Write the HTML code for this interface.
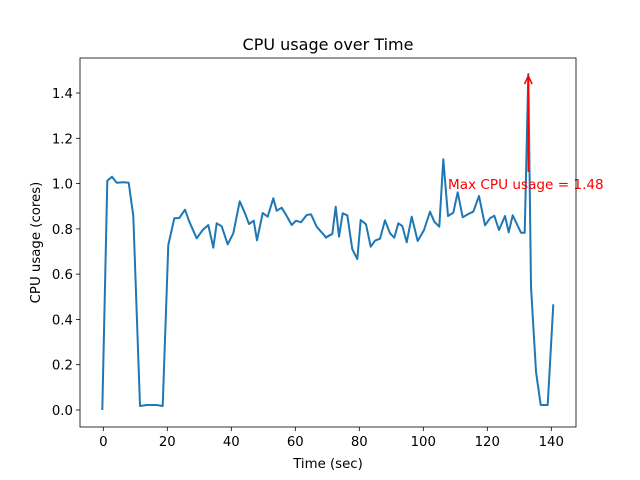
<!DOCTYPE html>
<html><head><meta charset="utf-8"><style>body{margin:0;background:#fff}svg{display:block}text{font-family:"DejaVu Sans","Liberation Sans",sans-serif}</style></head>
<body>
<svg width="640" height="480" viewBox="0 0 640 480">
<rect width="640" height="480" fill="#fff"/>
<text x="328" y="50" font-size="16" text-anchor="middle">CPU usage over Time</text>
<polyline fill="none" stroke="#1f77b4" stroke-width="2" stroke-linejoin="round" points="102.3,410 107.3,180.7 112,176.7 116.7,182.7 123.3,182.3 128.7,182.7 133.3,216 140,406 146.7,405 156.7,405 162.7,406 168.3,245 174.3,218.3 179.3,218 185,209.7 189.3,221.7 196.7,238.3 202.7,230 208.3,225 213.3,247.7 216.7,223.3 221.7,226.3 227.7,244.3 233.3,233.3 239.7,201.3 245,213.3 249,224 253.7,220.7 257,240.3 262.7,213 267.7,216.7 273.3,198.3 276.7,210.7 281.7,207.7 286.7,216 291.7,225 296,220.7 301,222.3 306.7,215 311,214.3 316.7,226.7 326,237.3 330,235 325.7,237.7 332.3,234 335.7,206.7 339,236.7 342.7,213.3 347.3,215.3 352.3,249.3 357.3,259 360.7,220 366,224.3 370.7,246.7 375,240.7 380,238.7 385,220.3 390,233.3 394.3,237.7 398.3,223.3 402.3,226 406.7,242.3 411.7,216.7 417.7,241 424,230 430,211.7 434.3,221.7 439.3,226.7 443.3,159.3 448,216 453.3,212.7 457.7,192.3 462.7,217.3 468.3,214 473.3,211.7 479,196 485,225.3 490,218.3 494.3,215.7 499,230 505,216 508.7,232.3 512.7,215.3 521,232.7 524.7,232.7 528.3,74 531,286.7 536,371.7 540.7,405 547.7,405 553.3,304.3"/>
<line x1="528.3" y1="172" x2="528.3" y2="76" stroke="red" stroke-width="1.5"/>
<polyline points="524.5,84 528.3,76 532.1,84" fill="none" stroke="red" stroke-width="1.5"/>
<text x="448" y="189" font-size="13.6" fill="red">Max CPU usage = 1.48</text>
<rect x="80" y="58" width="496" height="369" fill="none" stroke="#000" stroke-width="0.8"/>
<g stroke="#000" stroke-width="0.8">
<line x1="103.3" y1="427" x2="103.3" y2="431"/><line x1="167.3" y1="427" x2="167.3" y2="431"/><line x1="231.3" y1="427" x2="231.3" y2="431"/><line x1="295.3" y1="427" x2="295.3" y2="431"/><line x1="359.3" y1="427" x2="359.3" y2="431"/><line x1="423.3" y1="427" x2="423.3" y2="431"/><line x1="487.3" y1="427" x2="487.3" y2="431"/><line x1="551.3" y1="427" x2="551.3" y2="431"/>
<line x1="76" y1="410" x2="80" y2="410"/><line x1="76" y1="364.7" x2="80" y2="364.7"/><line x1="76" y1="319.4" x2="80" y2="319.4"/><line x1="76" y1="274.1" x2="80" y2="274.1"/><line x1="76" y1="228.9" x2="80" y2="228.9"/><line x1="76" y1="183.6" x2="80" y2="183.6"/><line x1="76" y1="138.3" x2="80" y2="138.3"/><line x1="76" y1="93" x2="80" y2="93"/>
</g>
<g font-size="13.3" text-anchor="middle">
<text x="103.3" y="446">0</text><text x="167.3" y="446">20</text><text x="231.3" y="446">40</text><text x="295.3" y="446">60</text><text x="359.3" y="446">80</text><text x="423.3" y="446">100</text><text x="487.3" y="446">120</text><text x="551.3" y="446">140</text>
</g>
<g font-size="13.3" text-anchor="end">
<text x="73" y="415">0.0</text><text x="73" y="369.7">0.2</text><text x="73" y="324.4">0.4</text><text x="73" y="279.1">0.6</text><text x="73" y="233.9">0.8</text><text x="73" y="188.6">1.0</text><text x="73" y="143.3">1.2</text><text x="73" y="98">1.4</text>
</g>
<text x="328" y="468" font-size="13.3" text-anchor="middle">Time (sec)</text>
<text transform="translate(40,242.5) rotate(-90)" font-size="13.3" text-anchor="middle">CPU usage (cores)</text>
</svg>
</body></html>
